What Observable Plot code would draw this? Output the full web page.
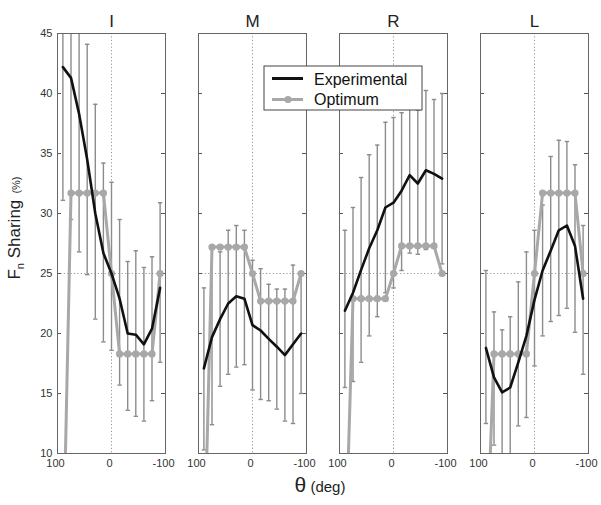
<!DOCTYPE html>
<html><head><meta charset="utf-8">
<script src="https://cdn.jsdelivr.net/npm/d3@7"></script>
<script src="https://cdn.jsdelivr.net/npm/@observablehq/plot@0.6"></script>
<style>body{margin:0;background:#fff;} #chart{width:601px;height:505px;}</style>
</head><body><div id="chart"></div>
<script>
const panels = ["I", "M", "R", "L"];
const theta = [90, 75, 60, 45, 30, 15, 0, -15, -30, -45, -60, -75, -90];
const yTicks = [10, 15, 20, 25, 30, 35, 40, 45];
const innerTicks = [15, 20, 25, 30, 35, 40];
const xTicks = [100, 0, -100];

// Panel I
const expI  = [42.2, 41.3, 38.3, 34.5, 30.0, 26.7, 25.0, 22.9, 20.0, 19.9, 19.1, 20.4, 23.8];
const optI  = [0, 31.7, 31.7, 31.7, 31.7, 31.7, 25, 18.3, 18.3, 18.3, 18.3, 18.3, 25];
const lowI  = [31.1, 29.5, 26.8, 24.9, 21.2, 19.3, 18.6, 15.7, 13.6, 13.1, 12.7, 14.4, 17.6];
const highI = [53, 53, 50, 44.1, 39.1, 34.2, 32.6, 29.5, 26.0, 26.9, 25.5, 26.4, 30.9];
// Panel M
const expM  = [17.1, 19.7, 21.2, 22.5, 23.1, 22.9, 20.7, 20.25, 19.55, 18.9, 18.2, 19.1, 20.0];
const optM  = [0, 27.2, 27.2, 27.2, 27.2, 27.2, 25, 22.7, 22.7, 22.7, 22.7, 22.7, 25];
const lowM  = [10.3, 12.4, 15.6, 16.6, 17.2, 17.4, 15.3, 14.5, 14.4, 13.7, 12.7, 12.5, 15.0];
const highM = [23.8, 27.0, 26.8, 28.6, 29.0, 28.6, 26.1, 25.4, 24.1, 23.7, 23.7, 25.7, 25.0];
// Panel R
const expR  = [21.9, 23.4, 25.3, 27.1, 28.6, 30.5, 30.9, 31.9, 33.2, 32.5, 33.6, 33.3, 32.9];
const optR  = [0, 22.9, 22.9, 22.9, 22.9, 22.9, 25, 27.3, 27.3, 27.3, 27.3, 27.3, 25];
const lowR  = [15.5, 16.0, 17.6, 19.8, 21.4, 23.4, 23.8, 25.25, 26.7, 26.6, 27.0, 27.1, 25.8];
const highR = [28.6, 30.5, 33.0, 34.9, 35.7, 37.6, 38.0, 38.4, 39.7, 38.6, 40.25, 39.5, 40.0];
// Panel L
const expL  = [18.8, 16.35, 15.1, 15.5, 17.6, 19.8, 22.8, 25.25, 26.9, 28.6, 29.0, 27.3, 22.9];
const optL  = [0, 18.3, 18.3, 18.3, 18.3, 18.3, 25, 31.7, 31.7, 31.7, 31.7, 31.7, 25];
const lowL  = [12.5, 10.7, 9.5, 9.5, 12.3, 13.0, 17.3, 19.8, 21.0, 21.5, 22.1, 20.1, 16.6];
const highL = [25.25, 21.8, 20.3, 21.4, 24.3, 26.8, 28.6, 30.7, 34.75, 36.1, 36.0, 34.06, 29.0];

const exps = [expI, expM, expR, expL];
const opts = [optI, optM, optR, optL];
const lows = [lowI, lowM, lowR, lowL];
const highs = [highI, highM, highR, highL];

const rows = panels.flatMap((p, k) => theta.map((t, i) => ({
  panel: p, theta: t, exp: exps[k][i], opt: opts[k][i], low: lows[k][i], high: highs[k][i]
})));

const capSymbol = {draw(ctx, size) { const r = Math.sqrt(size / Math.PI); ctx.moveTo(-r, 0); ctx.lineTo(r, 0); }};
const barColor = "#8c8c8c", optColor = "#a8a8a8";
const font = "'Liberation Sans', Arial, sans-serif";

const svgNode = Plot.plot({
  width: 601, height: 505,
  marginTop: 33, marginBottom: 52, marginLeft: 57, marginRight: 13,
  style: {fontFamily: font, background: "#fff"},
  x: {domain: [100, -100]},
  y: {domain: [10, 45]},
  fx: {domain: panels, paddingInner: 0.235, paddingOuter: 0, axis: null, label: null},
  marks: [
    Plot.ruleX([0], {stroke: "#999", strokeDasharray: "1.2,2.2"}),
    Plot.ruleY([25], {stroke: "#999", strokeDasharray: "1.2,2.2"}),
    Plot.tickY(innerTicks, {insetRight: 104, stroke: "#555"}),
    Plot.tickY(innerTicks, {insetLeft: 104, stroke: "#555"}),
    Plot.ruleX(rows, {x: "theta", y1: "low", y2: "high", fx: "panel", stroke: barColor, strokeWidth: 1.4, clip: true}),
    Plot.dot(rows, {x: "theta", y: "high", fx: "panel", symbol: capSymbol, r: 2.2, fill: "none", stroke: barColor, strokeWidth: 1.4, clip: true}),
    Plot.dot(rows, {x: "theta", y: "low", fx: "panel", symbol: capSymbol, r: 2.2, fill: "none", stroke: barColor, strokeWidth: 1.4, clip: true}),
    Plot.line(rows, {x: "theta", y: "opt", fx: "panel", z: "panel", stroke: optColor, strokeWidth: 3, clip: true}),
    Plot.dot(rows, {x: "theta", y: "opt", fx: "panel", r: 3.6, fill: optColor, stroke: "none", clip: true}),
    Plot.line(rows, {x: "theta", y: "exp", fx: "panel", z: "panel", stroke: "#111", strokeWidth: 2.6, clip: true}),
    Plot.frame({stroke: "#666"}),
    Plot.axisY(yTicks, {tickSize: 0, tickPadding: 5, fontSize: 11, color: "#333", label: null}),
    Plot.axisX(xTicks, {tickSize: 0, tickPadding: 6, fontSize: 11, color: "#333", label: null, dx: -2, tickFormat: d => String(d)}),
    Plot.text(panels, {fx: d => d, text: d => d, frameAnchor: "top", dy: -19, fontSize: 17, fill: "#222"})
  ]
});
document.getElementById("chart").appendChild(svgNode);

const svg = d3.select(svgNode);
// y label
const yl = svg.append("text").attr("transform", "translate(20,228) rotate(-90)")
  .attr("text-anchor", "middle").attr("fill", "#222").attr("font-family", font);
yl.append("tspan").attr("font-size", 17).text("F");
yl.append("tspan").attr("font-size", 11).attr("dy", 4).text("n");
yl.append("tspan").attr("font-size", 17).attr("dy", -4).text(" Sharing");
yl.append("tspan").attr("font-size", 11).text("  (%)");
// x label
const xl = svg.append("text").attr("x", 320).attr("y", 492)
  .attr("text-anchor", "middle").attr("fill", "#222").attr("font-family", font);
xl.append("tspan").attr("font-size", 21).text("θ");
xl.append("tspan").attr("font-size", 15).text(" (deg)");
// legend
const lg = svg.append("g").attr("font-family", font).attr("text-anchor", "start");
lg.append("rect").attr("x", 264).attr("y", 66).attr("width", 158).attr("height", 44)
  .attr("fill", "#fff").attr("stroke", "#444");
lg.append("line").attr("x1", 272).attr("x2", 303).attr("y1", 78.5).attr("y2", 78.5).attr("stroke", "#111").attr("stroke-width", 3);
lg.append("line").attr("x1", 272).attr("x2", 303).attr("y1", 99.5).attr("y2", 99.5).attr("stroke", optColor).attr("stroke-width", 3);
lg.append("circle").attr("cx", 288).attr("cy", 99.5).attr("r", 3.6).attr("fill", optColor);
lg.append("text").attr("x", 314).attr("y", 85).attr("font-size", 16).attr("fill", "#111").attr("text-anchor", "start").text("Experimental");
lg.append("text").attr("x", 314).attr("y", 105).attr("font-size", 16).attr("fill", "#111").attr("text-anchor", "start").text("Optimum");
</script>
</body></html>
